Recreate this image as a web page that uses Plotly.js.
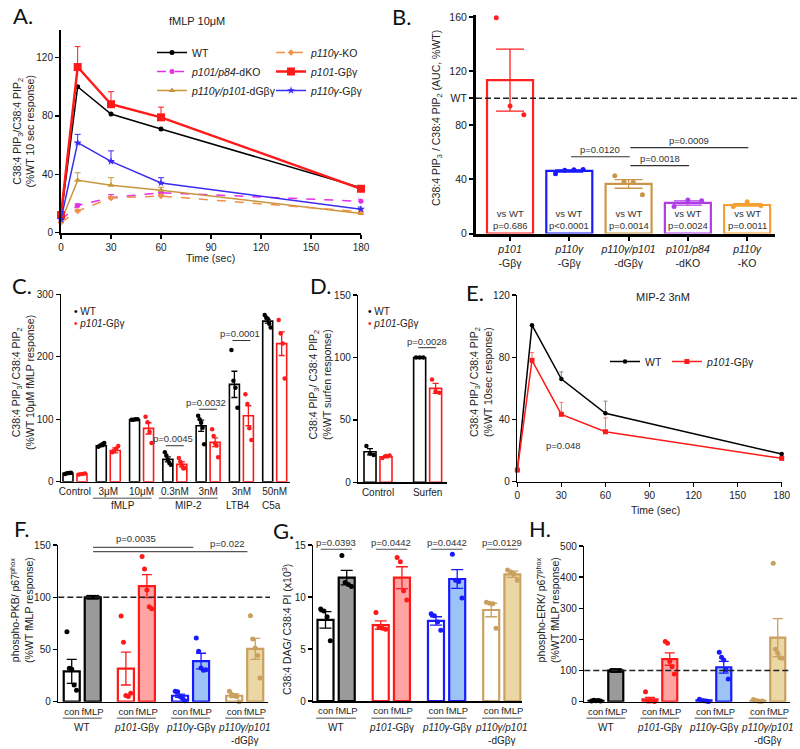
<!DOCTYPE html>
<html><head><meta charset="utf-8">
<script src="https://cdn.plot.ly/plotly-3.0.1.min.js"></script>
<style>html,body{margin:0;padding:0;background:#fff}#chart{width:800px;height:749px}</style>
</head><body><div id="chart"></div>
<script>
// ================= DATA =================
// Panel A (fMLP 10uM time course)
const timeA = [0, 10, 30, 60, 180];
const aWT = [11, 100, 81.3, 71, 30.7];
const aDKO = [8.6, 18.6, 23.9, 27.3, 21.4];
const aDKOErr = [0, 1, 2.1, 1.3, 1.5];
const aDG = [7.4, 35.8, 32.4, 29, 13];
const aDGErr = [0, 5.2, 5.2, 2, 1];
const aKO = [7, 14.7, 23.7, 25, 14.3];
const aKOErr = [0, 1, 1, 1, 1];
const aP101 = [12, 113.5, 88, 79, 30];
const aP101Err = [0, 14, 8.6, 7, 0];
const aP110 = [9, 61.6, 48.8, 34, 16];
const aP110Err = [0, 5.7, 7.2, 3.6, 1.5];

// Panel B (AUC)
const bLabels = ['<i>p101</i><br>-Gβγ', '<i>p110γ</i><br>-Gβγ', '<i>p110γ/p101</i><br>-dGβγ', '<i>p101/p84</i><br>-dKO', '<i>p110γ</i><br>-KO'];
const bMeans = [113.5, 46.3, 36.7, 22.6, 21.1];
const bErr = [23, 0.8, 3.2, 1.6, 0.9];
const bPoints = [[159.6, 94.4, 87.8], [44.2, 46.8, 47.2, 47.4], [42.8, 38.4, 38, 28.7], [19.9, 24.8, 24.2], [19.9, 23.5, 20.8]];
const bVsWT = ['p=0.686', 'p<0.0001', 'p=0.0014', 'p=0.0024', 'p=0.0011'];
const bSig = [['p=0.0120', 1, 2], ['p=0.0018', 2, 3], ['p=0.0009', 2, 4]];

// Panel C (agonists)
const cLabels = ['Control', '3μM', '10μM', '0.3nM', '3nM', '3nM', '50nM'];
const cGroupLabels = ['fMLP', 'MIP-2', 'LTB4', 'C5a'];
const cWT = [13.4, 57.6, 99, 35.8, 89.6, 155.8, 257];
const cWTErr = [1, 1.5, 0.5, 4, 9, 21, 3];
const cWTPts = [[12.5, 13.5, 14, 14.5], [56, 58, 60, 62], [99, 99, 100, 100], [47, 42, 35, 30, 27], [105.6, 100, 94.4, 86.4, 59.8], [210.7, 161.6, 150.4, 118.4], [266.7, 263, 260.8, 253, 247]];
const cRed = [12.3, 50, 85.4, 27.8, 63, 105.6, 221];
const cRedErr = [0.8, 4, 9, 4, 7, 16, 19];
const cRedPts = [[11.5, 12.5, 13], [47, 50, 53, 57], [104, 95, 80, 62], [38, 32, 26, 21, 22], [84, 73, 61, 58, 39], [139.8, 124.3, 85.4, 66.7], [258.7, 237.4, 221.4, 165.4]];
const cSig = [['p=0.0045', 3, 57.6], ['p=0.0032', 4, 116], ['p=0.0001', 5, 226]];

// Panel D (surfen)
const dLabels = ['Control', 'Surfen'];
const dWT = [24.5, 100];
const dWTErr = [2.5, 0.5];
const dWTPts = [[29, 23, 21.8], [100, 100, 100]];
const dRed = [20.5, 75.2];
const dRedErr = [1, 4];
const dRedPts = [[19.5, 21, 21.5], [82.4, 73, 71.7]];
const dSig = ['p=0.0028', 1, 107.8];

// Panel E (MIP-2 3nM time course)
const timeE = [0, 10, 30, 60, 180];
const eWT = [7.5, 100.6, 66, 44, 17.8];
const eWTErr = [0, 0, 4.6, 7.8, 0];
const eRed = [7.5, 78, 43.3, 32.1, 15];
const eRedErr = [0, 5, 7.7, 8.9, 0];

// Panels F, G, H (con / fMLP per genotype)
const genoLabels = ['WT', '<i>p101</i>-Gβγ', '<i>p110γ</i>-Gβγ', '<i>p110γ/p101</i><br>-dGβγ'];
const condLabels = ['con', 'fMLP'];
// F: phospho-PKB
const fCon = [29, 31.7, 5.7, 5.7];
const fConErr = [11.5, 15.7, 1.5, 1.8];
const fConPts = [[67, 32, 31, 16, 11], [82, 57, 6, 5, 8], [10, 9.5, 5, 3, 1], [10, 7, 6, 5, 0]];
const fFm = [100, 110.7, 38.9, 50.6];
const fFmErr = [0, 11, 7.5, 10];
const fFmPts = [[100, 100, 100, 100, 100], [139, 127, 107, 91, 89], [61, 48.4, 32.3, 30, 30.5], [82.3, 60.1, 51.3, 44.3, 22.8]];
const fSig = [['p=0.0035', 0, 2, 147.8], ['p=0.022', 0, 3, 143.6]];
// G: DAG
const gCon = [7.8, 7.3, 7.7, 8.75];
const gConErr = [0.8, 0.4, 0.4, 0.65];
const gConPts = [[8.85, 8.65, 8.1, 5.8], [8.5, 7.1, 7.0, 6.9], [8.4, 8.2, 7.6, 6.8], [9.5, 9.4, 9.35, 7.0]];
const gFm = [11.86, 11.86, 11.73, 12.18];
const gFmErr = [0.7, 1.05, 0.9, 0.3];
const gFmPts = [[14.0, 11.4, 11.2, 11.0], [13.8, 13.4, 10.6, 9.7], [14.1, 11.6, 11.5, 9.9], [12.6, 12.4, 12.2, 11.6]];
const gSig = ['p=0.0393', 'p=0.0442', 'p=0.0442', 'p=0.0129'];
// H: phospho-ERK
const hCon = [3, 7.7, 4, 3];
const hConErr = [1, 6, 1.5, 1.2];
const hConPts = [[2, 5, 3, 4, 2], [32, 2, 2, 3, 1], [8, 4, 3, 2, 1], [7, 4, 2, 1, 2]];
const hFm = [100, 137, 110.6, 205.8];
const hFmErr = [0, 20, 19, 61];
const hFmPts = [[100, 100, 100, 100, 100], [193, 188, 129, 112, 89], [159, 143, 134, 102, 73], [445, 168.5, 155.6, 141.5, 139.5]];

// ================= STYLE / HELPERS =================
const W = 800, H = 749;
const P = x => x / W, Q = y => 1 - y / H;
const FONT = 'Liberation Sans, Arial, sans-serif';
const traces = [], annotations = [], shapes = [];
const grpEdge = ['#000000', '#FF1A1A', '#1A1AFF', '#C9A060'];
const grpFill = ['#9A9A9A', '#FFA3A3', '#9CC3F5', '#EAD7A4'];
const bEdge = ['#FF2020', '#1A1AFF', '#C9964A', '#B03CE8', '#F5A030'];

function ann(text, x, y, o) { annotations.push(Object.assign({ text, x: P(x), y: Q(y), xref: 'paper', yref: 'paper', showarrow: false, xanchor: 'center', yanchor: 'middle', font: { size: 10, color: '#222' } }, o || {})); }
function annD(text, xref, yref, x, y, o) { annotations.push(Object.assign({ text, x, y, xref, yref, showarrow: false, xanchor: 'center', yanchor: 'middle', font: { size: 10, color: '#222' } }, o || {})); }
function line(xref, yref, x0, x1, y, color, width, dash) { shapes.push({ type: 'line', xref, yref, x0, x1, y0: y, y1: y, line: { color, width, dash: dash || 'solid' }, layer: 'above' }); }
function spread(n, half) { const o = []; for (let k = 0; k < n; k++) o.push(n === 1 ? 0 : (-half + 2 * half * k / (n - 1))); return o; }

function addBars(xa, ya, xs, means, errs, pts, off, w, edge, fill, dot, lw, cap, dsz, errColor) {
  traces.push({ type: 'bar', xaxis: xa, yaxis: ya, x: xs, y: means, offset: off - w / 2, width: w,
    marker: { color: fill, line: { color: edge, width: lw } },
    error_y: { type: 'data', array: errs, visible: true, color: errColor || edge, thickness: 1.3, width: cap },
    showlegend: false, hoverinfo: 'skip' });
  const px = [], py = [];
  pts.forEach((arr, i) => { const s = spread(arr.length, w * 0.3); arr.forEach((v, k) => { px.push(xs[i] + off + s[k]); py.push(v); }); });
  traces.push({ type: 'scatter', mode: 'markers', xaxis: xa, yaxis: ya, x: px, y: py, marker: { color: dot, size: dsz }, cliponaxis: false, showlegend: false, hoverinfo: 'skip' });
}

function ax(domain, range, anchor, extra) {
  return Object.assign({ domain, range, anchor, showline: true, linecolor: '#000', linewidth: 1.5, ticks: 'outside', ticklen: 4, tickwidth: 1.3, tickcolor: '#000', showgrid: false, zeroline: false, fixedrange: true, tickangle: 0, tickfont: { size: 10, color: '#222' } }, extra || {});
}

// ================= PANEL A =================
const aSeries = [
  { name: 'WT', y: aWT, err: null, color: '#000000', dash: 'solid', w: 1.5, sym: 'circle', ms: 5, lg: 'legend' },
  { name: '<i>p101/p84</i>-dKO', y: aDKO, err: aDKOErr, color: '#E62EE6', dash: 'dash', w: 1.5, sym: 'circle', ms: 5, lg: 'legend' },
  { name: '<i>p110γ/p101</i>-dGβγ', y: aDG, err: aDGErr, color: '#C8963C', dash: 'solid', w: 1.5, sym: 'triangle-up', ms: 6, lg: 'legend' },
  { name: '<i>p110γ</i>-KO', y: aKO, err: aKOErr, color: '#F0904A', dash: 'dash', w: 1.5, sym: 'diamond', ms: 5, lg: 'legend2' },
  { name: '<i>p101</i>-Gβγ', y: aP101, err: aP101Err, color: '#FF1A1A', dash: 'solid', w: 2.5, sym: 'square', ms: 8, lg: 'legend2' },
  { name: '<i>p110γ</i>-Gβγ', y: aP110, err: aP110Err, color: '#3B2BF5', dash: 'solid', w: 1.5, sym: 'star', ms: 6, lg: 'legend2' }
];
aSeries.forEach(s => {
  traces.push({ type: 'scatter', mode: 'lines+markers', xaxis: 'x', yaxis: 'y', x: timeA, y: s.y, name: s.name, legend: s.lg,
    line: { color: s.color, width: s.w, dash: s.dash }, marker: { symbol: s.sym, size: s.ms, color: s.color },
    error_y: s.err ? { type: 'data', symmetric: false, array: s.err, arrayminus: s.err.map(() => 0), color: s.color, thickness: 1, width: 3 } : { visible: false },
    cliponaxis: false, hoverinfo: 'skip' });
});

// ================= PANEL B =================
const bIdx = bMeans.map((_, i) => i);
bIdx.forEach(i => addBars('x2', 'y2', [i], [bMeans[i]], [bErr[i]], [bPoints[i]], 0, 0.776, bEdge[i], '#FFFFFF', bEdge[i], 2.2, 14, 5));
bIdx.forEach(i => annD('vs WT<br>' + bVsWT[i], 'x2', 'y2', i, 10, { font: { size: 9.5, color: '#333' } }));
const bSigY = [56.8, 50.2, 63.5];
bSig.forEach((s, k) => {
  const x0 = s[1] + 0.03, x1 = s[2] + 0.02;
  line('x2', 'y2', x0, x1, bSigY[k], '#333', 1.2);
  annD(s[0], 'x2', 'y2', (x0 + x1) / 2, bSigY[k], { yanchor: 'bottom', font: { size: 9.5, color: '#333' } });
});
shapes.push({ type: 'line', xref: 'paper', yref: 'y2', x0: P(476), x1: 1, y0: 100, y1: 100, line: { color: '#222', width: 1.5, dash: '6px,3px' } });

// ================= PANEL C =================
const cIdx = cWT.map((_, i) => i);
addBars('x3', 'y3', cIdx, cWT, cWTErr, cWTPts, -0.21, 0.3, '#000000', '#FFFFFF', '#000000', 1.6, 3, 4.5);
addBars('x3', 'y3', cIdx, cRed, cRedErr, cRedPts, 0.21, 0.3, '#FF1A1A', '#FFFFFF', '#FF1A1A', 1.6, 3, 4.5);
cSig.forEach(s => {
  line('x3', 'y3', s[1] - 0.27, s[1] + 0.27, s[2], '#333', 1);
  annD(s[0], 'x3', 'y3', s[1] - 0.05, s[2] - 1, { yanchor: 'bottom', font: { size: 9.5, color: '#333' } });
});
const cGroupX = [1.44, 3.41, 4.89, 5.9];
cGroupLabels.forEach((t, k) => annD(t, 'x3', 'paper', cGroupX[k], Q(505), { font: { size: 10, color: '#222' } }));
shapes.push({ type: 'line', xref: 'x3', yref: 'paper', x0: 0.54, x1: 2.3, y0: Q(498.3), y1: Q(498.3), line: { color: '#888', width: 1.5 } });
shapes.push({ type: 'line', xref: 'x3', yref: 'paper', x0: 2.52, x1: 4.29, y0: Q(498.3), y1: Q(498.3), line: { color: '#888', width: 1.5 } });
ann('<span style="color:#000">•</span> WT', 72, 311.5, { xanchor: 'left', font: { size: 10, color: '#222' } });
ann('<span style="color:#FF1A1A">•</span> <i>p101</i>-Gβγ', 72, 323.5, { xanchor: 'left', font: { size: 10, color: '#222' } });

// ================= PANEL D =================
const dIdx = dWT.map((_, i) => i);
addBars('x4', 'y4', dIdx, dWT, dWTErr, dWTPts, -0.161, 0.242, '#000000', '#FFFFFF', '#000000', 1.6, 3, 4.5);
addBars('x4', 'y4', dIdx, dRed, dRedErr, dRedPts, 0.161, 0.242, '#FF1A1A', '#FFFFFF', '#FF1A1A', 1.6, 3, 4.5);
line('x4', 'y4', dSig[1] - 0.19, dSig[1] + 0.17, dSig[2], '#333', 1);
annD(dSig[0], 'x4', 'y4', dSig[1] - 0.02, dSig[2] - 1, { yanchor: 'bottom', font: { size: 9.5, color: '#333' } });
ann('<span style="color:#000">•</span> WT', 366, 311, { xanchor: 'left', font: { size: 10, color: '#222' } });
ann('<span style="color:#FF1A1A">•</span> <i>p101</i>-Gβγ', 366, 323, { xanchor: 'left', font: { size: 10, color: '#222' } });

// ================= PANEL E =================
traces.push({ type: 'scatter', mode: 'lines+markers', xaxis: 'x5', yaxis: 'y5', x: timeE, y: eWT, name: 'WT', legend: 'legend3',
  line: { color: '#000', width: 1.5 }, marker: { symbol: 'circle', size: 4.5, color: '#000' },
  error_y: { type: 'data', symmetric: false, array: eWTErr, arrayminus: eWTErr.map(() => 0), color: '#888', thickness: 1, width: 2 }, cliponaxis: false, hoverinfo: 'skip' });
traces.push({ type: 'scatter', mode: 'lines+markers', xaxis: 'x5', yaxis: 'y5', x: timeE, y: eRed, name: '<i>p101</i>-Gβγ', legend: 'legend3',
  line: { color: '#FF1A1A', width: 1.5 }, marker: { symbol: 'square', size: 5, color: '#FF1A1A' },
  error_y: { type: 'data', symmetric: false, array: eRedErr, arrayminus: eRedErr.map(() => 0), color: '#FF7070', thickness: 1, width: 2 }, cliponaxis: false, hoverinfo: 'skip' });
annD('p=0.048', 'x5', 'y5', 31.3, 23.1, { font: { size: 9.5, color: '#333' } });

// ================= PANELS F, G, H =================
const fghSets = [
  { xa: 'x6', ya: 'y6', con: fCon, conErr: fConErr, conPts: fConPts, fm: fFm, fmErr: fFmErr, fmPts: fFmPts, off: 0.194, w: 0.296, cap: 5 },
  { xa: 'x7', ya: 'y7', con: gCon, conErr: gConErr, conPts: gConPts, fm: gFm, fmErr: gFmErr, fmPts: gFmPts, off: 0.192, w: 0.29, cap: 6 },
  { xa: 'x8', ya: 'y8', con: hCon, conErr: hConErr, conPts: hConPts, fm: hFm, fmErr: hFmErr, fmPts: hFmPts, off: 0.183, w: 0.278, cap: 5 }
];
fghSets.forEach(S => {
  genoLabels.forEach((g, i) => {
    addBars(S.xa, S.ya, [i], [S.con[i]], [S.conErr[i]], [S.conPts[i]], -S.off, S.w, grpEdge[i], '#FFFFFF', grpEdge[i], 2.2, S.cap, 5);
    addBars(S.xa, S.ya, [i], [S.fm[i]], [S.fmErr[i]], [S.fmPts[i]], S.off, S.w, grpEdge[i], grpFill[i], grpEdge[i], 2.2, S.cap, 5);
    shapes.push({ type: 'line', xref: S.xa, yref: 'paper', x0: i - 0.36, x1: i + 0.36, y0: Q(718.3), y1: Q(718.3), line: { color: '#888', width: 1.5 } });
    annD(g, S.xa, 'paper', i, Q(719.5), { yanchor: 'top', font: { size: 10, color: '#222' } });
  });
});
// F significance + dashed 100
fSig.forEach(s => {
  line('x6', 'y6', s[1] + 0.2, s[2] + 0.05, s[3], '#555', 1.2);
});
annD(fSig[0][0], 'x6', 'y6', 1.0, fSig[0][3] + 1, { yanchor: 'bottom', font: { size: 9.5, color: '#333' } });
annD(fSig[1][0], 'x6', 'y6', 2.69, fSig[1][3] + 1, { yanchor: 'bottom', font: { size: 9.5, color: '#333' } });
shapes.push({ type: 'line', xref: 'paper', yref: 'y6', x0: P(58.3), x1: P(270), y0: 100, y1: 100, line: { color: '#222', width: 1.5, dash: '6px,3px' } });
// G significance
gSig.forEach((t, i) => {
  line('x7', 'y7', i - 0.28, i + 0.29, 14.59, '#555', 1.2);
  annD(t, 'x7', 'y7', i, 14.59, { yanchor: 'bottom', yshift: -1, font: { size: 9.5, color: '#333' } });
});
// H dashed 100
shapes.push({ type: 'line', xref: 'paper', yref: 'y8', x0: P(584.3), x1: P(790), y0: 100, y1: 100, line: { color: '#222', width: 1.5, dash: '6px,3px' } });

// ================= TEXT =================
const letterFont = { family: 'Lato, Liberation Sans, sans-serif', size: 22, color: '#111' };
[['A.', 23, 15], ['B.', 402, 16], ['C.', 22, 285], ['D.', 320, 285], ['E.', 475, 292], ['F.', 22, 528], ['G.', 283, 530], ['H.', 540, 528]]
  .forEach(l => ann(l[0], l[1], l[2], { font: letterFont }));
ann('fMLP 10μM', 197, 21, { font: { size: 11, color: '#222' } });
ann('MIP-2 3nM', 663, 297, { font: { size: 11, color: '#222' } });
ann('Time (sec)', 210, 258, { font: { size: 10.5, color: '#222' } });
ann('Time (sec)', 655, 510, { font: { size: 10.5, color: '#222' } });
const yt = { textangle: -90, font: { size: 10.5, color: '#222' } };
ann('C38:4 PIP<sub>3</sub>/C38:4 PIP<sub>2</sub><br>(%WT 10 sec response)', 23.5, 132, yt);
ann('C38:4 PIP<sub>3</sub> / C38:4 PIP<sub>2</sub> (AUC, %WT)', 437, 118, yt);
ann('C38:4 PIP<sub>3</sub>/ C38:4 PIP<sub>2</sub><br>(%WT 10μM fMLP response)', 23, 383, yt);
ann('C38:4 PIP<sub>3</sub>/ C38:4 PIP<sub>2</sub><br>(%WT surfen response)', 320, 385, yt);
ann('C38:4 PIP<sub>3</sub>/ C38:4 PIP<sub>2</sub><br>(%WT 10sec response)', 481, 382, yt);
ann('phospho-PKB/ p67<sup>phox</sup><br>(%WT fMLP response)', 21, 610, yt);
ann('C38:4 DAG/ C38:4 PI (x10<sup>3</sup>)', 286, 630, yt);
ann('phospho-ERK/ p67<sup>phox</sup><br>(%WT fMLP response)', 547, 610, yt);

// ================= LAYOUT =================
const fghTickVals = [], fghTickText = [];
genoLabels.forEach((g, i) => { fghTickVals.push(i - 0.19, i + 0.19); fghTickText.push(condLabels[0], condLabels[1]); });
const noTick = { ticks: '', ticklen: 0 };
const fghX = Object.assign({ tickvals: fghTickVals, ticktext: fghTickText, tickangle: 0, tickfont: { size: 9.5, color: '#222' } }, noTick);
const layout = {
  width: W, height: H, margin: { l: 0, r: 0, t: 0, b: 0 },
  paper_bgcolor: '#fff', plot_bgcolor: 'rgba(0,0,0,0)',
  font: { family: FONT, size: 10, color: '#222' },
  barmode: 'overlay', showlegend: true, hovermode: false,
  xaxis: ax([P(61), P(361)], [0, 180], 'y', { tickvals: [0, 30, 60, 90, 120, 150, 180], linewidth: 2 }),
  yaxis: ax([Q(232.5), Q(30)], [0, 138.9], 'x', { tickvals: [0, 40, 80, 120], linewidth: 2 }),
  xaxis2: ax([P(476), P(775)], [-0.574, 4.47], 'y2', { tickvals: bIdx, ticktext: bLabels, linewidth: 3, tickwidth: 2, tickfont: { size: 10.5, color: '#222' } }),
  yaxis2: ax([Q(233.5), Q(15)], [0, 161.7], 'x2', { tickvals: [0, 40, 80, 100, 120, 160], ticktext: ['0', '40', '80', 'WT', '120', '160'], linewidth: 3, tickwidth: 2, tickfont: { size: 10.5, color: '#222' } }),
  xaxis3: ax([P(61), P(290)], [-0.42, 6.46], 'y3', Object.assign({ tickvals: cIdx, ticktext: cLabels }, noTick)),
  yaxis3: ax([Q(481.7), Q(294.3)], [0, 300], 'x3', { tickvals: [0, 100, 200, 300] }),
  xaxis4: ax([P(358.3), P(447)], [-0.397, 1.39], 'y4', Object.assign({ tickvals: dIdx, ticktext: dLabels }, noTick)),
  yaxis4: ax([Q(482.3), Q(295)], [0, 150], 'x4', { tickvals: [0, 50, 100, 150] }),
  xaxis5: ax([P(517.3), P(781.7)], [0, 180], 'y5', { tickvals: [0, 30, 60, 90, 120, 150, 180] }),
  yaxis5: ax([Q(481.7), Q(295)], [0, 120], 'x5', { tickvals: [0, 40, 80, 120] }),
  xaxis6: ax([P(58.3), P(268)], [-0.442, 3.43], 'y6', fghX),
  yaxis6: ax([Q(701.7), Q(545)], [0, 150], 'x6', { tickvals: [0, 50, 100, 150] }),
  xaxis7: ax([P(313.3), P(521.7)], [-0.413, 3.36], 'y7', fghX),
  yaxis7: ax([Q(701), Q(545)], [0, 15], 'x7', { tickvals: [0, 5, 10, 15] }),
  xaxis8: ax([P(584.3), P(790)], [-0.4, 3.41], 'y8', fghX),
  yaxis8: ax([Q(701.7), Q(546)], [0, 500], 'x8', { tickvals: [0, 100, 200, 300, 400, 500] }),
  legend: { x: P(152), y: Q(38), xanchor: 'left', yanchor: 'top', bgcolor: 'rgba(0,0,0,0)', font: { size: 10.5, color: '#222' }, tracegroupgap: 0 },
  legend2: { x: P(271), y: Q(38), xanchor: 'left', yanchor: 'top', bgcolor: 'rgba(0,0,0,0)', font: { size: 10.5, color: '#222' }, tracegroupgap: 0 },
  legend3: { orientation: 'h', x: P(605), y: Q(347), xanchor: 'left', yanchor: 'top', bgcolor: 'rgba(0,0,0,0)', font: { size: 10.5, color: '#222' } },
  annotations, shapes
};
Plotly.newPlot('chart', traces, layout, { staticPlot: true, displayModeBar: false });
</script>
</body></html>
